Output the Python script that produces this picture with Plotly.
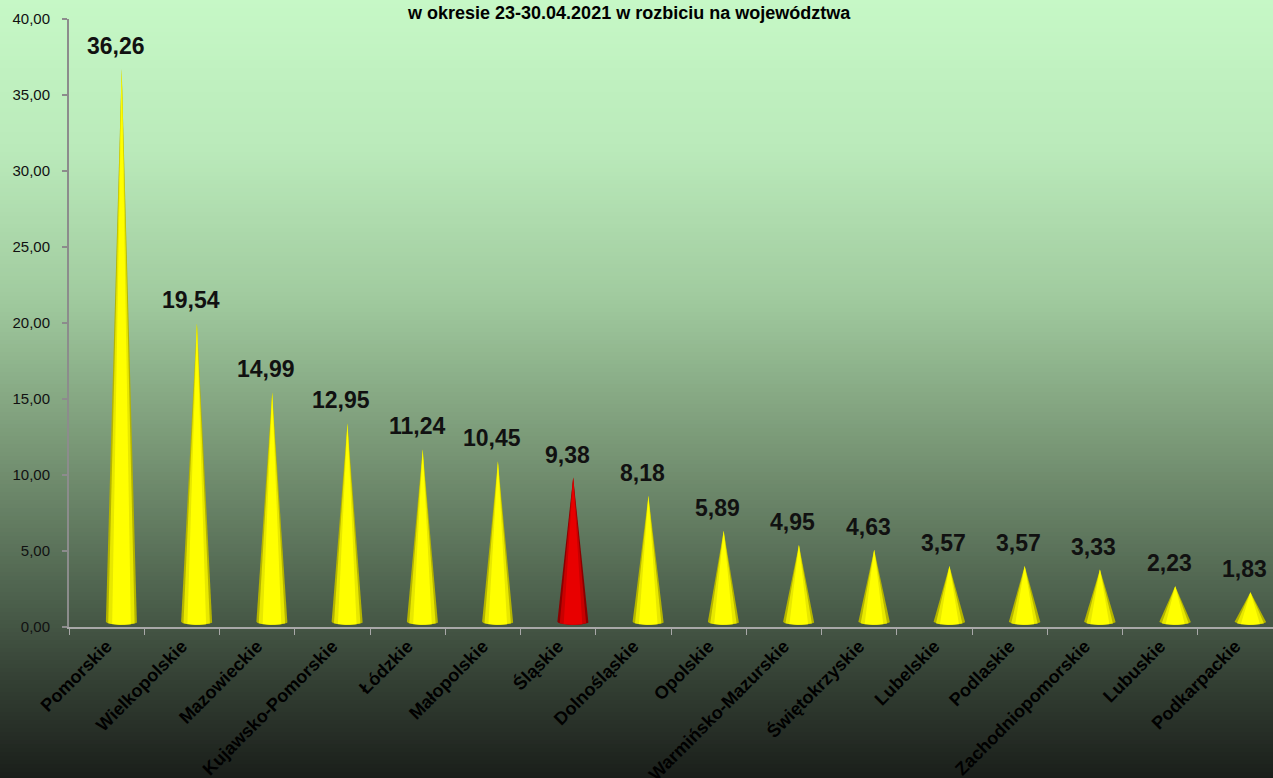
import numpy as np
import plotly.graph_objects as go

# ---------------- data ----------------
regions = ["Pomorskie", "Wielkopolskie", "Mazowieckie", "Kujawsko-Pomorskie", "Łódzkie",
           "Małopolskie", "Śląskie", "Dolnośląskie", "Opolskie", "Warmińsko-Mazurskie",
           "Świętokrzyskie", "Lubelskie", "Podlaskie", "Zachodniopomorskie", "Lubuskie",
           "Podkarpackie"]
values = [36.26, 19.54, 14.99, 12.95, 11.24, 10.45, 9.38, 8.18, 5.89, 4.95, 4.63,
          3.57, 3.57, 3.33, 2.23, 1.83]
highlight = "Śląskie"
title_text = "w okresie 23-30.04.2021 w rozbiciu na województwa"
y_tick_values = [0, 5, 10, 15, 20, 25, 30, 35, 40]

# ---------------- style ----------------
W, H = 1273, 778
ML, MR, MT, MB = 69, 0, 19, 151
CONE_OFF = 0.2      # perspective shift of cones inside a category
HALF_W = 0.21       # cone base half width (category units)
BASE = 0.35         # floor height of 3D cone base
TIP_EXTRA = 0.45
ARC = 0.2

yellow_layers = ["#b4b400", "#e8e800", "#ffff00"]
red_layers = ["#8a0000", "#c80000", "#e80000"]
layer_scale = [1.0, 0.85, 0.6]

fig = go.Figure()

# background gradient (bands in paper coordinates)
stops = [(0, (198, 248, 198)), (150, (186, 234, 186)), (300, (160, 202, 158)),
         (450, (120, 150, 117)), (600, (76, 96, 76)), (680, (52, 64, 52)), (778, (26, 30, 26))]
plot_h = H - MT - MB
def px_to_paper(py):
    return (H - MB - py) / plot_h
def color_at(py):
    for (p0, c0), (p1, c1) in zip(stops[:-1], stops[1:]):
        if p0 <= py <= p1:
            t = (py - p0) / (p1 - p0)
            return "rgb(%d,%d,%d)" % tuple(round(a + (b - a) * t) for a, b in zip(c0, c1))
    return "rgb(%d,%d,%d)" % stops[-1][1]
shapes = []
step = 4
for py in range(0, H + 8, step):
    shapes.append(dict(type="rect", xref="paper", yref="paper", layer="below",
                       x0=-ML / (W - ML - MR) - 0.01, x1=1.01,
                       y0=px_to_paper(py + step + 0.5), y1=px_to_paper(py),
                       line=dict(width=0), fillcolor=color_at(min(py + step / 2, H))))

# invisible trace to build the category axis
fig.add_trace(go.Scatter(x=regions, y=values, mode="markers", marker=dict(opacity=0),
                         hoverinfo="skip", showlegend=False, xaxis="x", yaxis="y"))

# cones
t = np.linspace(0, np.pi, 24)
for i, (name, v) in enumerate(zip(regions, values)):
    c = i + CONE_OFF
    cols = red_layers if name == highlight else yellow_layers
    for sc, col in zip(layer_scale, cols):
        hw = HALF_W * sc
        ax = c + hw * np.cos(t)
        ay = BASE - ARC * np.sqrt(np.clip(1 - ((ax - c) / HALF_W) ** 2, 0, 1))
        xs = [c] + list(ax) + [c]
        ys = [v + TIP_EXTRA] + list(ay) + [v + TIP_EXTRA]
        fig.add_trace(go.Scatter(x=xs, y=ys, mode="lines", fill="toself", fillcolor=col,
                                 line=dict(width=0, color=col), hoverinfo="skip",
                                 showlegend=False, xaxis="x2", yaxis="y"))

# value labels
annotations = []
for i, v in enumerate(values):
    annotations.append(dict(x=i + CONE_OFF - 0.08, y=v + TIP_EXTRA, xref="x2", yref="y",
                            text=("%.2f" % v).replace(".", ","), showarrow=False,
                            yanchor="bottom", yshift=8,
                            font=dict(family="Arial, Liberation Sans", size=23,
                                      color="#111111", weight="bold")))

# title
annotations.append(dict(x=(629 - ML) / (W - ML - MR), y=px_to_paper(13), xref="paper", yref="paper",
                        text=title_text, showarrow=False, xanchor="center", yanchor="middle",
                        font=dict(family="Arial, Liberation Sans", size=18,
                                  color="#000000", weight="bold")))

fig.update_layout(
    width=W, height=H,
    margin=dict(l=ML, r=MR, t=MT, b=MB, autoexpand=False),
    paper_bgcolor="rgb(26,30,26)",
    plot_bgcolor="rgba(0,0,0,0)",
    separators=", ",
    shapes=shapes,
    annotations=annotations,
    showlegend=False,
    xaxis=dict(type="category", categoryorder="array", categoryarray=regions,
               range=[-0.5, len(regions) - 0.5], tickson="boundaries", automargin=False,
               ticks="outside", ticklen=6, tickcolor="#a8a8a8", tickwidth=1,
               showline=True, linecolor="#a8a8a8", linewidth=1.5,
               showgrid=False, zeroline=False, tickangle=-45,
               tickfont=dict(family="Arial, Liberation Sans", size=18, color="#000000",
                             weight="bold")),
    xaxis2=dict(overlaying="x", range=[-0.5, len(regions) - 0.5], visible=False,
                showgrid=False, zeroline=False, automargin=False),
    yaxis=dict(range=[0, 40], tickvals=y_tick_values, tickformat=".2f", automargin=False,
               ticks="outside", ticklen=5, tickcolor="#8c8c8c", tickwidth=1.5,
               showline=True, linecolor="#8c8c8c", linewidth=2,
               showgrid=False, zeroline=False, ticklabelstandoff=9,
               tickfont=dict(family="Arial, Liberation Sans", size=15, color="#111111")),
)

fig.write_html("out.html", config={"displayModeBar": False},
               post_script="document.body.style.margin='0';document.body.style.padding='0';"
                           "document.body.style.overflow='hidden';")
